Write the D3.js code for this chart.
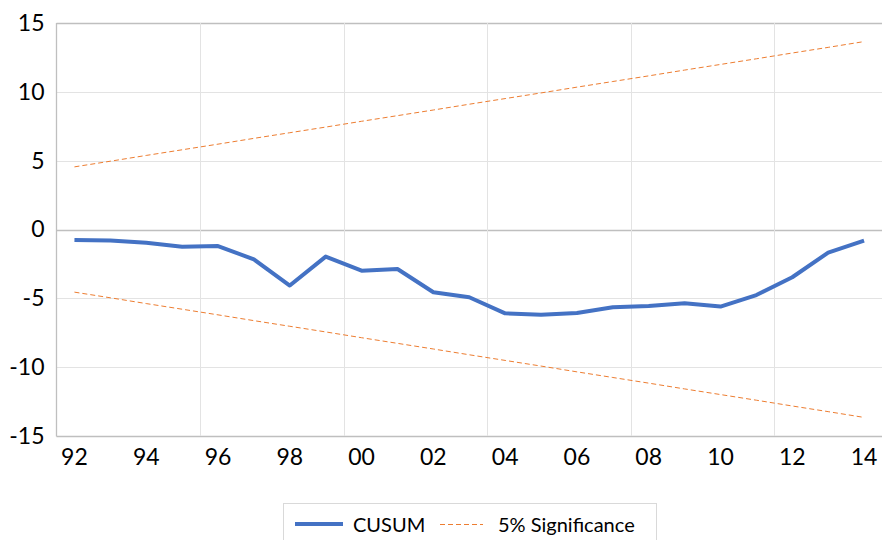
<!DOCTYPE html>
<html>
<head>
<meta charset="utf-8">
<script src="https://cdn.jsdelivr.net/npm/d3@7"></script>
<style>
  body { margin: 0; background: #fff; }
  svg { display: block; font-family: Lato, "Open Sans", sans-serif; }
</style>
</head>
<body>
<div id="chart"></div>
<script>
// yearly observations, 1992-2014
const years = ["92","93","94","95","96","97","98","99","00","01","02","03",
               "04","05","06","07","08","09","10","11","12","13","14"];
const cusum = [-0.76, -0.8, -0.97, -1.25, -1.2, -2.17, -4.07, -1.97, -2.99, -2.87, -4.56, -4.92,
               -6.09, -6.2, -6.06, -5.65, -5.56, -5.36, -5.6, -4.76, -3.47, -1.68, -0.81];
const upper5 = [4.55, 4.96, 5.38, 5.79, 6.2, 6.62, 7.03, 7.44, 7.86, 8.27, 8.68, 9.1,
                9.51, 9.92, 10.34, 10.75, 11.16, 11.58, 11.99, 12.4, 12.82, 13.23, 13.65];
const lower5 = [-4.55, -4.96, -5.38, -5.79, -6.2, -6.62, -7.03, -7.44, -7.86, -8.27, -8.68, -9.1,
                -9.51, -9.92, -10.34, -10.75, -11.16, -11.58, -11.99, -12.4, -12.82, -13.23, -13.65];
const yTicks = [-15, -10, -5, 0, 5, 10, 15];
const labelYears = years.filter((d, i) => i % 2 === 0);
const gridYears = years.filter((d, i) => i % 4 === 0 && i > 0);

const W = 882, H = 540;
const plot = { left: 56.5, right: 882, top: 23, bottom: 436 };

const svg = d3.select("#chart").append("svg")
    .attr("width", W)
    .attr("height", H);

const x = d3.scaleBand()
    .domain(years)
    .range([plot.left, plot.right]);

const y = d3.scaleLinear()
    .domain([-15, 15])
    .range([plot.bottom, plot.top]);

const cx = d => x(d) + x.bandwidth() / 2;

// horizontal gridlines
svg.append("g")
    .selectAll("line")
    .data(yTicks)
    .join("line")
    .attr("x1", plot.left)
    .attr("x2", plot.right)
    .attr("y1", d => Math.round(y(d)) + 0.5)
    .attr("y2", d => Math.round(y(d)) + 0.5)
    .attr("stroke", d => (d === 0 || d === 15 || d === -15) ? "#bfbfbf" : "#e3e3e3")
    .attr("stroke-width", d => (d === 0 || d === 15 || d === -15) ? 1.3 : 1);

// vertical gridlines, at category boundaries every 4 years
svg.append("g")
    .selectAll("line")
    .data(gridYears)
    .join("line")
    .attr("x1", d => Math.round(x(d)) + 0.5)
    .attr("x2", d => Math.round(x(d)) + 0.5)
    .attr("y1", plot.top)
    .attr("y2", plot.bottom)
    .attr("stroke", "#e3e3e3");

// left axis line
svg.append("line")
    .attr("x1", plot.left).attr("x2", plot.left)
    .attr("y1", plot.top).attr("y2", plot.bottom + 0.5)
    .attr("stroke", "#bfbfbf")
    .attr("stroke-width", 1.3);

// y tick labels (plain hyphen for negatives)
const yAxis = d3.axisLeft(y).tickValues(yTicks).tickSize(0).tickPadding(12)
    .tickFormat(d => String(d));
svg.append("g")
    .attr("transform", `translate(${plot.left},0)`)
    .call(yAxis)
    .call(g => g.select(".domain").remove())
    .call(g => g.selectAll("text")
        .attr("font-family", "Lato, sans-serif")
        .attr("font-size", 23)
        .attr("fill", "#000"));

// x tick labels
const xAxis = d3.axisBottom(x).tickValues(labelYears).tickSize(0).tickPadding(13);
svg.append("g")
    .attr("transform", `translate(0,${plot.bottom})`)
    .call(xAxis)
    .call(g => g.select(".domain").remove())
    .call(g => g.selectAll("text")
        .attr("font-family", "Lato, sans-serif")
        .attr("font-size", 23)
        .attr("fill", "#000"));

const line = d3.line()
    .x((d, i) => cx(years[i]))
    .y(d => y(d));

// 5% significance bands
[upper5, lower5].forEach(band => {
    svg.append("path")
        .datum(band)
        .attr("d", line)
        .attr("fill", "none")
        .attr("stroke", "#ed7d31")
        .attr("stroke-width", 1)
        .attr("stroke-dasharray", "5,3");
});

// CUSUM
svg.append("path")
    .datum(cusum)
    .attr("d", line)
    .attr("fill", "none")
    .attr("stroke", "#4472c4")
    .attr("stroke-width", 4)
    .attr("stroke-linejoin", "round");

// legend
const legend = svg.append("g");
legend.append("rect")
    .attr("x", 283.5).attr("y", 503.5)
    .attr("width", 373).attr("height", 50)
    .attr("fill", "#fff")
    .attr("stroke", "#d9d9d9");

legend.append("line")
    .attr("x1", 295).attr("x2", 343)
    .attr("y1", 524).attr("y2", 524)
    .attr("stroke", "#4472c4")
    .attr("stroke-width", 4);
legend.append("text")
    .attr("x", 353).attr("y", 531.5)
    .attr("font-size", 20)
    .text("CUSUM");

legend.append("line")
    .attr("x1", 440).attr("x2", 483)
    .attr("y1", 524.5).attr("y2", 524.5)
    .attr("stroke", "#ed7d31")
    .attr("stroke-width", 1)
    .attr("stroke-dasharray", "5,3");
legend.append("text")
    .attr("x", 498).attr("y", 531.5)
    .attr("font-size", 20)
    .text("5% Significance");
</script>
</body>
</html>
